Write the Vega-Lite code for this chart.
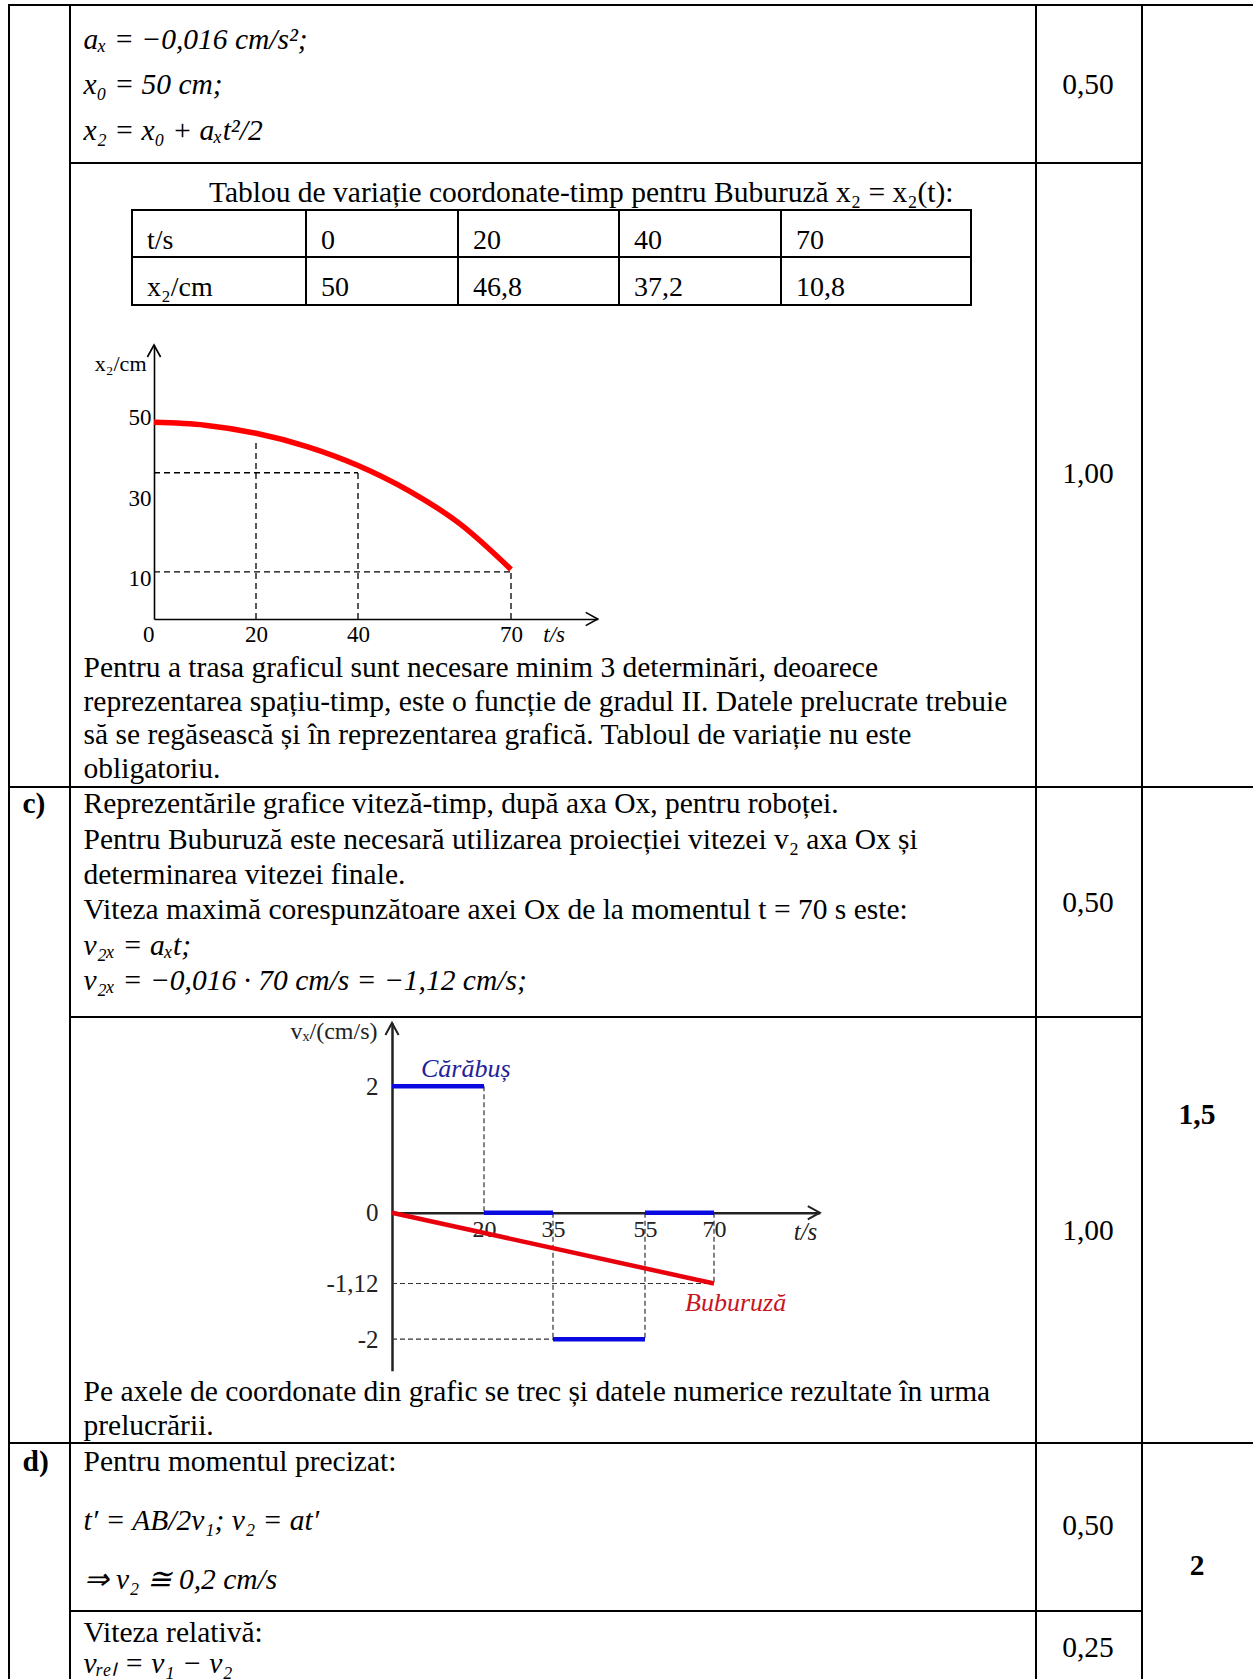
{
  "$schema": "https://vega.github.io/schema/vega-lite/v6.json",
  "padding": 0,
  "background": "black",
  "config": {
    "view": {"fill": "white", "stroke": null},
    "concat": {"spacing": 0},
    "text": {"font": "Liberation Serif", "fontSize": 29.5, "baseline": "middle", "align": "left", "color": "black"},
    "axis": {"labelFont": "Liberation Serif", "titleFont": "Liberation Serif", "labelColor": "black", "titleColor": "black", "domainColor": "black", "ticks": false, "grid": false, "titleFontWeight": "normal", "labelFlush": false, "labelOverlap": false}
  },
  "spacing": 0,
  "vconcat": [
    {"width": 1253, "height": 4, "data": {"values": []}, "mark": "rule", "encoding": {"x": {"value": 0}}},
    {"spacing": 0, "hconcat": [
      {"width": 8, "height": 2, "data": {"values": []}, "mark": "rule", "encoding": {"x": {"value": 0}}},
      {"width": 1245, "height": 2, "view": {"fill": "black"}, "data": {"values": []}, "mark": "rule", "encoding": {"x": {"value": 0}}}
    ]},
    {
      "spacing": 2,
      "hconcat": [
        {"width": 8, "height": 1673, "data": {"values": []}, "mark": "rule", "encoding": {"x": {"value": 0}}},
        {
          "spacing": 2,
          "vconcat": [
            {"width": 59, "height": 780, "data": {"values": []}, "mark": "rule", "encoding": {"x": {"value": 0}}},
            {"width": 59, "height": 654, "data": {"values": [{"s": "c)"}]}, "mark": {"type": "text", "fontWeight": "bold"}, "encoding": {"x": {"value": 12.5}, "y": {"value": 16.3}, "text": {"field": "s"}}},
            {"width": 59, "height": 235, "data": {"values": [{"s": "d)"}]}, "mark": {"type": "text", "fontWeight": "bold"}, "encoding": {"x": {"value": 12.5}, "y": {"value": 17.9}, "text": {"field": "s"}}}
          ]
        },
        {
          "spacing": 2,
          "vconcat": [
            {
              "width": 964, "height": 156,
              "data": {"values": [
                {"line": 1, "text": "aₓ = −0,016 cm/s²;"},
                {"line": 2, "text": "x₀ = 50 cm;"},
                {"line": 3, "text": "x₂ = x₀ + aₓt²/2"}
              ]},
              "mark": {"type": "text", "fontStyle": "italic"},
              "encoding": {
                "x": {"value": 12.5},
                "y": {"field": "line", "type": "quantitative", "scale": {"domain": [1, 3], "range": [34, 124.6], "nice": false, "zero": false}, "axis": null},
                "text": {"field": "text"}
              }
            },
            {
              "spacing": 0,
              "vconcat": [
                {"width": 964, "height": 45, "data": {"values": [{"s": "Tablou de variație coordonate-timp pentru Buburuză x₂ = x₂(t):"}]}, "mark": {"type": "text"}, "encoding": {"x": {"value": 138}, "y": {"value": 29}, "text": {"field": "s"}}},
                {
                  "spacing": 2,
                  "hconcat": [
                    {"width": 60, "height": 97, "data": {"values": []}, "mark": "rule", "encoding": {"x": {"value": 0}}},
                    {"spacing": 0, "vconcat": [
                      {"width": 172, "height": 2, "view": {"fill": "black"}, "data": {"values": []}, "mark": "rule", "encoding": {"x": {"value": 0}}},
                      {"width": 172, "height": 45, "data": {"values": [{"s": "t/s"}]}, "mark": {"type": "text", "fontSize": 28}, "encoding": {"x": {"value": 14}, "y": {"value": 30}, "text": {"field": "s"}}},
                      {"width": 172, "height": 2, "view": {"fill": "black"}, "data": {"values": []}, "mark": "rule", "encoding": {"x": {"value": 0}}},
                      {"width": 172, "height": 46, "data": {"values": [{"s": "x₂/cm"}]}, "mark": {"type": "text", "fontSize": 28}, "encoding": {"x": {"value": 14}, "y": {"value": 30}, "text": {"field": "s"}}},
                      {"width": 172, "height": 2, "view": {"fill": "black"}, "data": {"values": []}, "mark": "rule", "encoding": {"x": {"value": 0}}}
                    ]},
                    {"spacing": 0, "vconcat": [
                      {"width": 150, "height": 2, "view": {"fill": "black"}, "data": {"values": []}, "mark": "rule", "encoding": {"x": {"value": 0}}},
                      {"width": 150, "height": 45, "data": {"values": [{"s": "0"}]}, "mark": {"type": "text", "fontSize": 28}, "encoding": {"x": {"value": 14}, "y": {"value": 30}, "text": {"field": "s"}}},
                      {"width": 150, "height": 2, "view": {"fill": "black"}, "data": {"values": []}, "mark": "rule", "encoding": {"x": {"value": 0}}},
                      {"width": 150, "height": 46, "data": {"values": [{"s": "50"}]}, "mark": {"type": "text", "fontSize": 28}, "encoding": {"x": {"value": 14}, "y": {"value": 30}, "text": {"field": "s"}}},
                      {"width": 150, "height": 2, "view": {"fill": "black"}, "data": {"values": []}, "mark": "rule", "encoding": {"x": {"value": 0}}}
                    ]},
                    {"spacing": 0, "vconcat": [
                      {"width": 159, "height": 2, "view": {"fill": "black"}, "data": {"values": []}, "mark": "rule", "encoding": {"x": {"value": 0}}},
                      {"width": 159, "height": 45, "data": {"values": [{"s": "20"}]}, "mark": {"type": "text", "fontSize": 28}, "encoding": {"x": {"value": 14}, "y": {"value": 30}, "text": {"field": "s"}}},
                      {"width": 159, "height": 2, "view": {"fill": "black"}, "data": {"values": []}, "mark": "rule", "encoding": {"x": {"value": 0}}},
                      {"width": 159, "height": 46, "data": {"values": [{"s": "46,8"}]}, "mark": {"type": "text", "fontSize": 28}, "encoding": {"x": {"value": 14}, "y": {"value": 30}, "text": {"field": "s"}}},
                      {"width": 159, "height": 2, "view": {"fill": "black"}, "data": {"values": []}, "mark": "rule", "encoding": {"x": {"value": 0}}}
                    ]},
                    {"spacing": 0, "vconcat": [
                      {"width": 160, "height": 2, "view": {"fill": "black"}, "data": {"values": []}, "mark": "rule", "encoding": {"x": {"value": 0}}},
                      {"width": 160, "height": 45, "data": {"values": [{"s": "40"}]}, "mark": {"type": "text", "fontSize": 28}, "encoding": {"x": {"value": 14}, "y": {"value": 30}, "text": {"field": "s"}}},
                      {"width": 160, "height": 2, "view": {"fill": "black"}, "data": {"values": []}, "mark": "rule", "encoding": {"x": {"value": 0}}},
                      {"width": 160, "height": 46, "data": {"values": [{"s": "37,2"}]}, "mark": {"type": "text", "fontSize": 28}, "encoding": {"x": {"value": 14}, "y": {"value": 30}, "text": {"field": "s"}}},
                      {"width": 160, "height": 2, "view": {"fill": "black"}, "data": {"values": []}, "mark": "rule", "encoding": {"x": {"value": 0}}}
                    ]},
                    {"spacing": 0, "vconcat": [
                      {"width": 188, "height": 2, "view": {"fill": "black"}, "data": {"values": []}, "mark": "rule", "encoding": {"x": {"value": 0}}},
                      {"width": 188, "height": 45, "data": {"values": [{"s": "70"}]}, "mark": {"type": "text", "fontSize": 28}, "encoding": {"x": {"value": 14}, "y": {"value": 30}, "text": {"field": "s"}}},
                      {"width": 188, "height": 2, "view": {"fill": "black"}, "data": {"values": []}, "mark": "rule", "encoding": {"x": {"value": 0}}},
                      {"width": 188, "height": 46, "data": {"values": [{"s": "10,8"}]}, "mark": {"type": "text", "fontSize": 28}, "encoding": {"x": {"value": 14}, "y": {"value": 30}, "text": {"field": "s"}}},
                      {"width": 188, "height": 2, "view": {"fill": "black"}, "data": {"values": []}, "mark": "rule", "encoding": {"x": {"value": 0}}}
                    ]},
                    {"width": 63, "height": 97, "data": {"values": []}, "mark": "rule", "encoding": {"x": {"value": 0}}}
                  ]
                },
                {"width": 964, "height": 34, "data": {"values": []}, "mark": "rule", "encoding": {"x": {"value": 0}}},
                {
                  "width": 964, "height": 310,
                  "encoding": {
                    "x": {"field": "t", "type": "quantitative", "scale": {"domain": [0, 87], "range": [83, 526.7], "nice": false, "zero": false},
                      "axis": {"offset": -31, "values": [0, 20, 40, 70], "title": "t/s", "titleX": 482.7, "titleY": 15, "titleAlign": "center", "titleBaseline": "middle", "titleFontSize": 23, "titleFontStyle": "italic", "labelFontSize": 23, "labelPadding": 4, "domainWidth": 1.6,
                        "labelAlign": {"condition": {"test": "datum.value == 0", "value": "right"}, "value": "center"}}},
                    "y": {"field": "v", "type": "quantitative", "scale": {"domain": [0, 68], "range": [279, 5], "nice": false, "zero": false},
                      "axis": {"offset": -83, "values": [10, 30, 50], "title": "x₂/cm", "titleAngle": 0, "titleX": -8, "titleY": 23, "titleAlign": "right", "titleBaseline": "middle", "titleFontSize": 22, "labelFontSize": 23, "labelPadding": 3, "domainWidth": 1.6}}
                  },
                  "layer": [
                    {
                      "data": {"values": [
                        {"t": 20, "t2": 20, "v": 0, "v2": 44.6},
                        {"t": 40, "t2": 40, "v": 0, "v2": 36.3},
                        {"t": 70, "t2": 70, "v": 0, "v2": 11.7},
                        {"t": 0, "t2": 40, "v": 36.3, "v2": 36.3},
                        {"t": 0, "t2": 70, "v": 11.7, "v2": 11.7}
                      ]},
                      "mark": {"type": "rule", "color": "black", "strokeWidth": 1.3, "strokeDash": [6, 4]},
                      "encoding": {"x2": {"field": "t2"}, "y2": {"field": "v2"}}
                    },
                    {
                      "data": {"values": [
                        {"t": 0, "v": 48.8}, {"t": 10, "v": 48.1}, {"t": 20, "v": 46.1}, {"t": 30, "v": 42.8},
                        {"t": 40, "v": 38.1}, {"t": 50, "v": 31.8}, {"t": 60, "v": 23.6}, {"t": 70, "v": 12.3}
                      ]},
                      "mark": {"type": "line", "color": "#ff0000", "strokeWidth": 5.5, "interpolate": "monotone"}
                    },
                    {
                      "data": {"values": [{"t": 0, "v": 68}]},
                      "mark": {"type": "point", "shape": "M -0.55 1 L 0 0 L 0.55 1", "size": 576, "filled": false, "color": "black", "strokeWidth": 1.6, "opacity": 1}
                    },
                    {
                      "data": {"values": [{"t": 87, "v": 0}]},
                      "mark": {"type": "point", "shape": "M -1 -0.55 L 0 0 L -1 0.55", "size": 576, "filled": false, "color": "black", "strokeWidth": 1.6, "opacity": 1}
                    }
                  ]
                },
                {
                  "width": 964, "height": 136,
                  "data": {"values": [
                    {"line": 1, "text": "Pentru a trasa graficul sunt necesare minim 3 determinări, deoarece"},
                    {"line": 2, "text": "reprezentarea spațiu-timp, este o funcție de gradul II. Datele prelucrate trebuie"},
                    {"line": 3, "text": "să se regăsească și în reprezentarea grafică. Tabloul de variație nu este"},
                    {"line": 4, "text": "obligatoriu."}
                  ]},
                  "mark": {"type": "text"},
                  "encoding": {
                    "x": {"value": 12.5},
                    "y": {"field": "line", "type": "quantitative", "scale": {"domain": [1, 4], "range": [18.3, 119], "nice": false, "zero": false}, "axis": null},
                    "text": {"field": "text"}
                  }
                }
              ]
            },
            {
              "width": 964, "height": 228,
              "data": {"values": [
                {"line": 1, "f": 0, "text": "Reprezentările grafice viteză-timp, după axa Ox, pentru roboței."},
                {"line": 2, "f": 0, "text": "Pentru Buburuză este necesară utilizarea proiecției vitezei v₂ axa Ox și"},
                {"line": 3, "f": 0, "text": "determinarea vitezei finale."},
                {"line": 4, "f": 0, "text": "Viteza maximă corespunzătoare axei Ox de la momentul t = 70 s este:"},
                {"line": 5, "f": 1, "text": "v₂ₓ = aₓt;"},
                {"line": 6, "f": 1, "text": "v₂ₓ = −0,016 · 70 cm/s = −1,12 cm/s;"}
              ]},
              "encoding": {
                "x": {"value": 12.5},
                "y": {"field": "line", "type": "quantitative", "scale": {"domain": [1, 6], "range": [16.3, 193], "nice": false, "zero": false}, "axis": null},
                "text": {"field": "text"}
              },
              "layer": [
                {"transform": [{"filter": "datum.f == 0"}], "mark": {"type": "text"}},
                {"transform": [{"filter": "datum.f == 1"}], "mark": {"type": "text", "fontStyle": "italic"}}
              ]
            },
            {
              "spacing": 0,
              "vconcat": [
                {
                  "width": 964, "height": 358,
                  "encoding": {
                    "x": {"field": "t", "type": "quantitative", "scale": {"domain": [0, 93], "range": [321, 748.8], "nice": false, "zero": false},
                      "axis": {"offset": -163.3, "values": [20, 35, 55, 70], "title": "t/s", "titleX": 734, "titleY": 19, "titleAlign": "center", "titleBaseline": "middle", "titleFontSize": 25, "titleFontStyle": "italic", "titleColor": "#222222", "labelFontSize": 24, "labelPadding": 5, "labelColor": "#222222", "domainWidth": 2.5, "domainColor": "#222222"}},
                    "y": {"field": "v", "type": "quantitative", "scale": {"domain": [-2.5, 3], "range": [352.8, 4.95], "nice": false, "zero": false},
                      "axis": {"offset": -321, "values": [2, 0, -1.12, -2], "labelExpr": "replace(replace(format(datum.value, '~g'), '.', ','), '−', '-')", "labelFontSize": 25, "labelPadding": 14, "labelColor": "#222222", "domainWidth": 2.5, "domainColor": "#222222",
                        "title": "vₓ/(cm/s)", "titleAngle": 0, "titleAlign": "right", "titleBaseline": "middle", "titleX": -15, "titleY": 13, "titleFontSize": 24, "titleColor": "#222222"}}
                  },
                  "layer": [
                    {
                      "data": {"values": [
                        {"t": 20, "t2": 20, "v": 2, "v2": 0},
                        {"t": 35, "t2": 35, "v": 0, "v2": -2},
                        {"t": 55, "t2": 55, "v": 0, "v2": -2},
                        {"t": 70, "t2": 70, "v": 0, "v2": -1.12},
                        {"t": 0, "t2": 70, "v": -1.12, "v2": -1.12},
                        {"t": 0, "t2": 35, "v": -2, "v2": -2}
                      ]},
                      "mark": {"type": "rule", "color": "#333333", "strokeWidth": 1.2, "strokeDash": [5, 3]},
                      "encoding": {"x2": {"field": "t2"}, "y2": {"field": "v2"}}
                    },
                    {
                      "data": {"values": [
                        {"t": 0, "t2": 20, "v": 2},
                        {"t": 20, "t2": 35, "v": 0},
                        {"t": 35, "t2": 55, "v": -2},
                        {"t": 55, "t2": 70, "v": 0}
                      ]},
                      "mark": {"type": "rule", "color": "#0a0ae0", "strokeWidth": 4.5},
                      "encoding": {"x2": {"field": "t2"}}
                    },
                    {
                      "data": {"values": [{"t": 0, "v": 0}, {"t": 70, "v": -1.12}]},
                      "mark": {"type": "line", "color": "#e8000d", "strokeWidth": 4.5}
                    },
                    {
                      "data": {"values": [{"t": 6.3, "v": 2, "lab": "Cărăbuș"}]},
                      "mark": {"type": "text", "align": "left", "dy": -17, "fontSize": 26, "fontStyle": "italic", "color": "#22229a"},
                      "encoding": {"text": {"field": "lab"}}
                    },
                    {
                      "data": {"values": [{"t": 74.7, "v": -1.12, "lab": "Buburuză"}]},
                      "mark": {"type": "text", "align": "center", "dy": 19.5, "fontSize": 26, "fontStyle": "italic", "color": "#c8141e"},
                      "encoding": {"text": {"field": "lab"}}
                    },
                    {
                      "data": {"values": [{"t": 0, "v": 3}]},
                      "mark": {"type": "point", "shape": "M -0.55 1 L 0 0 L 0.55 1", "size": 576, "filled": false, "color": "#222222", "strokeWidth": 2, "opacity": 1}
                    },
                    {
                      "data": {"values": [{"t": 93, "v": 0}]},
                      "mark": {"type": "point", "shape": "M -1 -0.55 L 0 0 L -1 0.55", "size": 576, "filled": false, "color": "#222222", "strokeWidth": 2, "opacity": 1}
                    }
                  ]
                },
                {
                  "width": 964, "height": 66,
                  "data": {"values": [
                    {"line": 1, "text": "Pe axele de coordonate din grafic se trec și datele numerice rezultate în urma"},
                    {"line": 2, "text": "prelucrării."}
                  ]},
                  "mark": {"type": "text"},
                  "encoding": {
                    "x": {"value": 12.5},
                    "y": {"field": "line", "type": "quantitative", "scale": {"domain": [1, 2], "range": [16.3, 49.5], "nice": false, "zero": false}, "axis": null},
                    "text": {"field": "text"}
                  }
                }
              ]
            },
            {
              "width": 964, "height": 166,
              "data": {"values": [
                {"line": 1, "f": 0, "text": "Pentru momentul precizat:"},
                {"line": 2, "f": 1, "text": "t′ = AB/2v₁; v₂ = at′"},
                {"line": 3, "f": 1, "text": "⇒ v₂ ≅ 0,2 cm/s"}
              ]},
              "encoding": {
                "x": {"value": 12.5},
                "y": {"field": "line", "type": "quantitative", "scale": {"domain": [1, 3], "range": [17.9, 135.6], "nice": false, "zero": false}, "axis": null},
                "text": {"field": "text"}
              },
              "layer": [
                {"transform": [{"filter": "datum.f == 0"}], "mark": {"type": "text"}},
                {"transform": [{"filter": "datum.f == 1"}], "mark": {"type": "text", "fontStyle": "italic"}}
              ]
            },
            {
              "width": 964, "height": 67,
              "data": {"values": [
                {"line": 1, "f": 0, "text": "Viteza relativă:"},
                {"line": 2, "f": 1, "text": "vᵣₑₗ = v₁ − v₂"}
              ]},
              "encoding": {
                "x": {"value": 12.5},
                "y": {"field": "line", "type": "quantitative", "scale": {"domain": [1, 2], "range": [21.2, 51.5], "nice": false, "zero": false}, "axis": null},
                "text": {"field": "text"}
              },
              "layer": [
                {"transform": [{"filter": "datum.f == 0"}], "mark": {"type": "text"}},
                {"transform": [{"filter": "datum.f == 1"}], "mark": {"type": "text", "fontStyle": "italic"}}
              ]
            }
          ]
        },
        {
          "spacing": 2,
          "vconcat": [
            {"width": 104, "height": 156, "data": {"values": [{"s": "0,50"}]}, "mark": {"type": "text", "align": "center"}, "encoding": {"x": {"value": 51}, "y": {"value": 78.6}, "text": {"field": "s"}}},
            {"width": 104, "height": 622, "data": {"values": [{"s": "1,00"}]}, "mark": {"type": "text", "align": "center"}, "encoding": {"x": {"value": 51}, "y": {"value": 310.4}, "text": {"field": "s"}}},
            {"width": 104, "height": 228, "data": {"values": [{"s": "0,50"}]}, "mark": {"type": "text", "align": "center"}, "encoding": {"x": {"value": 51}, "y": {"value": 115}, "text": {"field": "s"}}},
            {"width": 104, "height": 424, "data": {"values": [{"s": "1,00"}]}, "mark": {"type": "text", "align": "center"}, "encoding": {"x": {"value": 51}, "y": {"value": 212.5}, "text": {"field": "s"}}},
            {"width": 104, "height": 166, "data": {"values": [{"s": "0,50"}]}, "mark": {"type": "text", "align": "center"}, "encoding": {"x": {"value": 51}, "y": {"value": 82}, "text": {"field": "s"}}},
            {"width": 104, "height": 67, "data": {"values": [{"s": "0,25"}]}, "mark": {"type": "text", "align": "center"}, "encoding": {"x": {"value": 51}, "y": {"value": 36}, "text": {"field": "s"}}}
          ]
        },
        {
          "spacing": 2,
          "vconcat": [
            {"width": 110, "height": 780, "data": {"values": []}, "mark": "rule", "encoding": {"x": {"value": 0}}},
            {"width": 110, "height": 654, "data": {"values": [{"s": "1,5"}]}, "mark": {"type": "text", "align": "center", "fontWeight": "bold"}, "encoding": {"x": {"value": 54}, "y": {"value": 327}, "text": {"field": "s"}}},
            {"width": 110, "height": 235, "data": {"values": [{"s": "2"}]}, "mark": {"type": "text", "align": "center", "fontWeight": "bold"}, "encoding": {"x": {"value": 54}, "y": {"value": 121.7}, "text": {"field": "s"}}}
          ]
        }
      ]
    }
  ]
}
